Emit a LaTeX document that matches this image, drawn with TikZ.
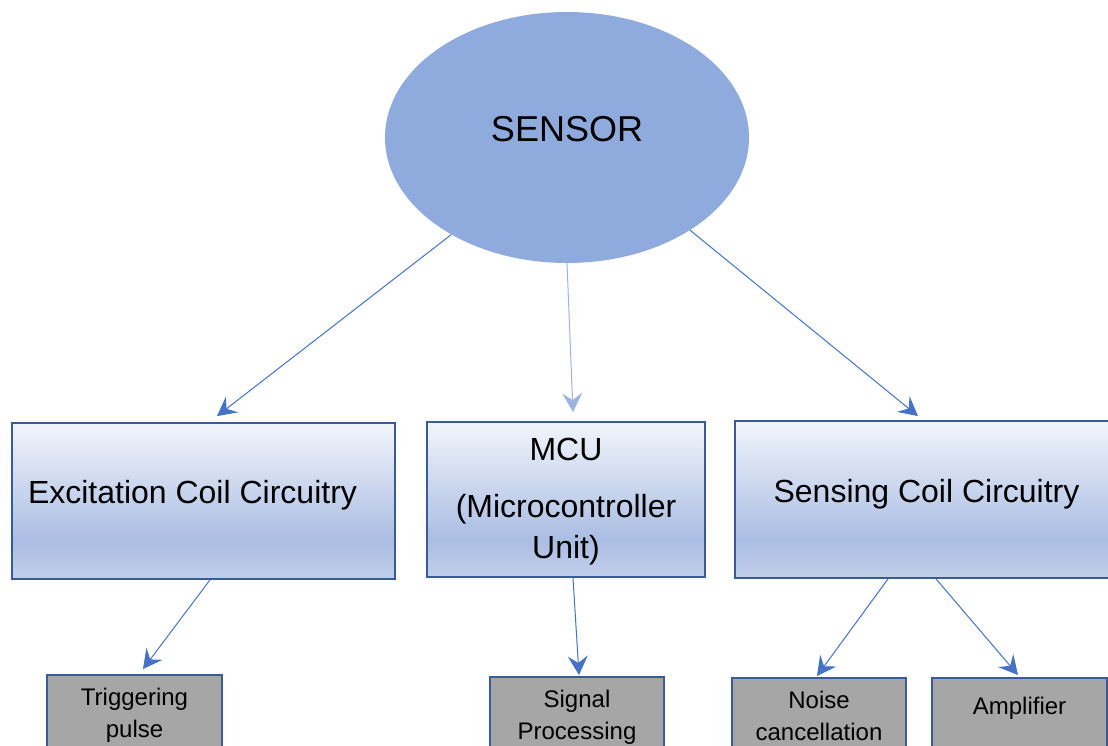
\documentclass[tikz,border=0pt]{standalone}
\usepackage{fontspec}
\setmainfont{Liberation Sans}
\usetikzlibrary{arrows.meta,shapes.geometric}
\definecolor{ovalblue}{HTML}{8FAADC}
\definecolor{arrowblue}{HTML}{4472C4}
\definecolor{liteblue}{HTML}{9DB4E0}
\definecolor{edgeblue}{HTML}{3A5A98}
\definecolor{boxgray}{HTML}{A6A6A6}
\definecolor{fadetop}{HTML}{F2F5FB}
\definecolor{fadedeep}{HTML}{AABDE3}
\definecolor{fadelow}{HTML}{C2CFEB}
\pgfdeclareverticalshading{boxfade}{100bp}{color(0bp)=(fadelow); color(25bp)=(fadelow); color(37bp)=(fadedeep); color(75bp)=(fadetop); color(100bp)=(fadetop)}
\tikzset{
  upbox/.style={draw=edgeblue, line width=1.8pt, shade, shading=boxfade, inner sep=0pt, font=\fontsize{32}{41}\selectfont},
  lowbox/.style={draw=edgeblue, line width=1.8pt, fill=boxgray, inner sep=0pt, anchor=north, minimum width=175pt, minimum height=90pt, text height=50pt, text depth=14pt, font=\fontsize{24}{32}\selectfont, align=center},
  arr/.style={-{Stealth[length=19pt,width=20pt,inset=7pt]}, draw=arrowblue, line width=1pt},
  lite/.style={draw=liteblue}
}
\begin{document}
\begin{tikzpicture}[x=1pt,y=-1pt]
      \useasboundingbox (0,0) rectangle (1108,746);
      \clip (0,0) rectangle (1108,746);
      \node[ellipse, fill=ovalblue, inner sep=0pt, minimum width=364pt, minimum height=251pt, text height=26pt, text depth=17pt, font=\fontsize{36}{43}\selectfont] (sensor) at (567,137.5) {SENSOR};
      \node[upbox, minimum width=383pt, minimum height=156pt, text height=23pt, text depth=19pt] (exc) at (203.5,501) {Excitation Coil Circuitry\hspace*{22pt}};
      \node[upbox, align=center, minimum width=278pt, minimum height=155pt, text height=124pt, text depth=7pt] (mcu) at (566,499.5) {MCU\\[16pt](Microcontroller\\Unit)};
      \node[upbox, minimum width=383pt, minimum height=157pt, text height=23pt, text depth=18pt] (sens) at (926.5,499.5) {Sensing Coil Circuitry};
      \node[lowbox] (trig) at (134.5,674) {Triggering\\pulse};
      \node[lowbox, minimum width=174pt] (sig) at (577,676) {Signal\\Processing};
      \node[lowbox, minimum width=174pt] (noise) at (819,677) {Noise\\cancellation};
      \node[lowbox, text height=18pt, text depth=34pt] (amp) at (1019.5,677) {Amplifier};
      \begin{scope}[arr]
        \draw (sensor.220) to ([xshift=13.5pt,yshift=6pt]exc.north);
        \draw[lite] (sensor.south) to ([xshift=7pt,yshift=9pt]mcu.north);
        \draw (sensor.-37) to ([xshift=-8.5pt,yshift=4pt]sens.north);
        \draw ([xshift=6.5pt]exc.south) to ([xshift=8.5pt,yshift=5pt]trig.north);
        \draw ([xshift=7pt]mcu.south) to ([xshift=2pt,yshift=1pt]sig.north);
        \draw ([xshift=-38.5pt]sens.south) to ([xshift=-2pt,yshift=1pt]noise.north);
        \draw ([xshift=9.5pt]sens.south) to ([xshift=-1.5pt,yshift=2pt]amp.north);
      \end{scope}
    \end{tikzpicture}
\end{document}
